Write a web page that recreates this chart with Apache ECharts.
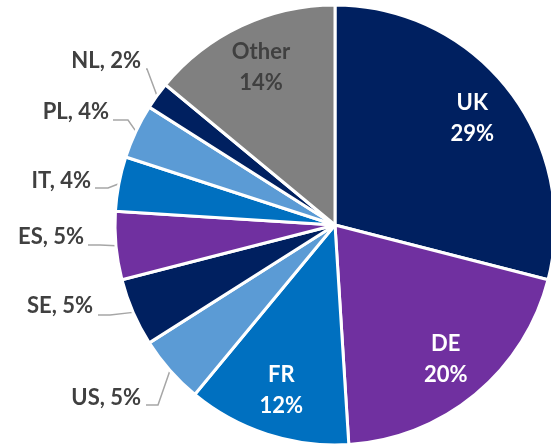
<!DOCTYPE html>
<html>
<head>
<meta charset="utf-8">
<script src="https://cdn.jsdelivr.net/npm/echarts@6/dist/echarts.min.js"></script>
<style>
  html, body { margin: 0; padding: 0; background: #fff; }
  #chart { width: 551px; height: 447px; }
</style>
</head>
<body>
<div id="chart"></div>
<script>
const countries = ['UK', 'DE', 'FR', 'US', 'SE', 'ES', 'IT', 'PL', 'NL', 'Other']
const shares = [29, 20, 12, 5, 5, 5, 4, 4, 2, 14]
const sliceColors = ['#002060', '#7030A0', '#0070C0', '#5B9BD5', '#002060', '#7030A0', '#0070C0', '#5B9BD5', '#002060', '#808080']
const insideNames = ['UK', 'DE', 'FR', 'Other']

const cx = 335
const cy = 225
const radius = 220

// mid angle of each slice, clockwise from 12 o'clock
const total = shares.reduce((a, b) => a + b, 0)
const midAngles = []
let acc = 0
shares.forEach(v => {
  midAngles.push((acc + v / 2) / total * Math.PI * 2)
  acc += v
})

// where the outside labels sit (text right edge / middle) and how the leader bends
const leaders = {
  US: { text: [141, 398], bend: [158, 405], end: [146, 405] },
  SE: { text: [93, 306], bend: [110, 315], end: [98, 315] },
  ES: { text: [84, 237], bend: [100, 245], end: [88, 245] },
  IT: { text: [91, 181], bend: [108, 188], end: [95, 188] },
  PL: { text: [109, 112], bend: [128, 120], end: [113, 120] },
  NL: { text: [141, 61], bend: [147, 69], end: [146, 69] }
}

const chart = echarts.init(document.getElementById('chart'))

chart.setOption({
  animation: false,
  series: [
    {
      type: 'pie',
      center: [cx, cy],
      radius: radius,
      startAngle: 90,
      clockwise: true,
      avoidLabelOverlap: false,
      itemStyle: { borderColor: '#fff', borderWidth: 3 },
      label: {
        show: true,
        position: 'outside',
        formatter: '{b}, {c}%',
        fontFamily: 'Lato',
        fontWeight: 'bold',
        fontSize: 22,
        color: '#404040'
      },
      labelLine: {
        show: true,
        length: 8,
        length2: 10,
        lineStyle: { color: '#A6A6A6', width: 1.5 }
      },
      labelLayout: function (params) {
        const i = params.dataIndex
        const name = countries[i]
        const a = midAngles[i]
        if (insideNames.indexOf(name) >= 0) {
          const r = radius * 0.79
          return {
            x: cx + r * Math.sin(a),
            y: cy - r * Math.cos(a),
            align: 'center',
            verticalAlign: 'middle'
          }
        }
        const l = leaders[name]
        return {
          x: l.text[0],
          y: l.text[1],
          align: 'right',
          verticalAlign: 'middle',
          labelLinePoints: [
            [cx + radius * Math.sin(a), cy - radius * Math.cos(a)],
            l.bend,
            l.end
          ]
        }
      },
      data: countries.map((name, i) => {
        const item = {
          name: name,
          value: shares[i],
          itemStyle: { color: sliceColors[i] }
        }
        if (insideNames.indexOf(name) >= 0) {
          item.label = {
            position: 'inside',
            formatter: '{b}\n{c}%',
            lineHeight: 31,
            color: name === 'Other' ? '#404040' : '#fff'
          }
          item.labelLine = { show: false }
        }
        return item
      })
    }
  ]
})
</script>
</body>
</html>
